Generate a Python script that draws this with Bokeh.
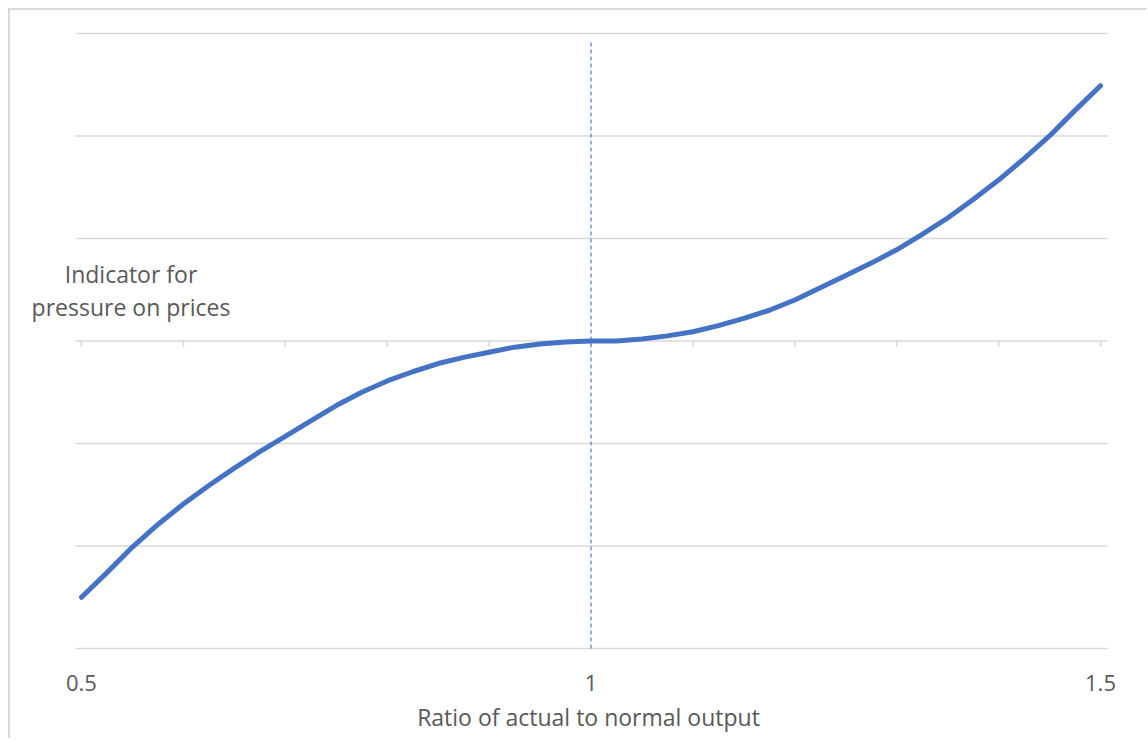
from bokeh.plotting import figure
from bokeh.models import LinearAxis, FixedTicker, Label, Range1d
from bokeh.embed import file_html
from bokeh.resources import INLINE

# Data
ratio = [0.500, 0.525, 0.550, 0.575, 0.600, 0.625, 0.650, 0.675, 0.700, 0.725,
         0.750, 0.775, 0.800, 0.825, 0.850, 0.875, 0.900, 0.925, 0.950, 0.975,
         1.000, 1.025, 1.050, 1.075, 1.100, 1.125, 1.150, 1.175, 1.200, 1.225,
         1.250, 1.275, 1.300, 1.325, 1.350, 1.375, 1.400, 1.425, 1.450, 1.475,
         1.500]
pressure = [-2.50, -2.26, -2.01, -1.79, -1.59, -1.41, -1.24, -1.08, -0.93, -0.78,
            -0.63, -0.50, -0.39, -0.30, -0.22, -0.16, -0.11, -0.06, -0.03, -0.01,
            0.00, 0.00, 0.02, 0.05, 0.09, 0.15, 0.22, 0.30, 0.40, 0.52,
            0.64, 0.76, 0.89, 1.04, 1.20, 1.38, 1.57, 1.78, 2.00, 2.25,
            2.49]
x_tick_labels = [0.5, 1.0, 1.5]
x_minor_ticks = [0.5, 0.6, 0.7, 0.8, 0.9, 1.0, 1.1, 1.2, 1.3, 1.4, 1.5]
y_grid_ticks = [-3, -2, -1, 0, 1, 2, 3]
normal_ratio = 1.0

# style / layout constants
FONT = "Open Sans"
FS_TICK = "22px"
FS_TEXT = "23px"
GRID = "#d9d9d9"
TEXT = "#595959"
BLUE = "#4472C4"
X_LO, X_HI = 0.448, 1.5471          # visible x range (frame)
Y_LO, Y_HI = -3.0293, 3.1268        # visible y range (frame)
GRID_X0, GRID_X1 = 0.4941, 1.5069   # extent of the plot area lines
TICK_LEN = 0.0585                   # ~6px in data units
DASH_TOP = 2.93

p = figure(width=1138, height=730, output_backend="svg", toolbar_location=None,
           x_range=Range1d(X_LO, X_HI), y_range=Range1d(Y_LO, Y_HI),
           x_axis_location=None, y_axis_location=None,
           min_border_left=18, min_border_right=0, min_border_top=10,
           min_border_bottom=89)
p.styles = {"margin-left": "8px", "margin-top": "8px",
            "border-left": "2px solid #d9d9d9", "border-top": "2px solid #d9d9d9"}
p.outline_line_color = None
p.background_fill_color = "white"
p.border_fill_color = "white"
p.grid.visible = False

# horizontal gridlines
p.segment(x0=GRID_X0, y0=y_grid_ticks, x1=GRID_X1, y1=y_grid_ticks,
          line_color=GRID, line_width=1.5)
# tick marks on the zero line
p.segment(x0=x_minor_ticks, y0=0, x1=x_minor_ticks, y1=-TICK_LEN,
          line_color=GRID, line_width=1.5)

# labelled bottom axis (labels only)
bottom = LinearAxis(ticker=FixedTicker(ticks=x_tick_labels),
                    axis_label="Ratio of actual to normal output")
bottom.axis_line_color = None
bottom.major_tick_line_color = None
bottom.minor_tick_line_color = None
bottom.major_label_standoff = 17
bottom.major_label_text_font = FONT
bottom.major_label_text_font_size = FS_TICK
bottom.major_label_text_color = TEXT
bottom.axis_label_text_font = FONT
bottom.axis_label_text_font_size = FS_TEXT
bottom.axis_label_text_color = TEXT
bottom.axis_label_text_font_style = "normal"
bottom.axis_label_standoff = 7
p.add_layout(bottom, "below")

# vertical dashed line at ratio 1
p.segment(x0=[normal_ratio], y0=[Y_LO + 0.0293], x1=[normal_ratio], y1=[DASH_TOP],
          line_color=BLUE, line_width=1.3, line_dash="4 3", line_alpha=0.85)

p.line(ratio, pressure, line_color=BLUE, line_width=5, line_cap="round",
       line_join="round")

for txt, yy in (("Indicator for", 0.652), ("pressure on prices", 0.332)):
    p.add_layout(Label(x=0.5486, y=yy, text=txt, text_align="center",
                       text_baseline="alphabetic", text_font=FONT,
                       text_font_size=FS_TEXT, text_color=TEXT))

open("out.html", "w").write(file_html(p, INLINE))
